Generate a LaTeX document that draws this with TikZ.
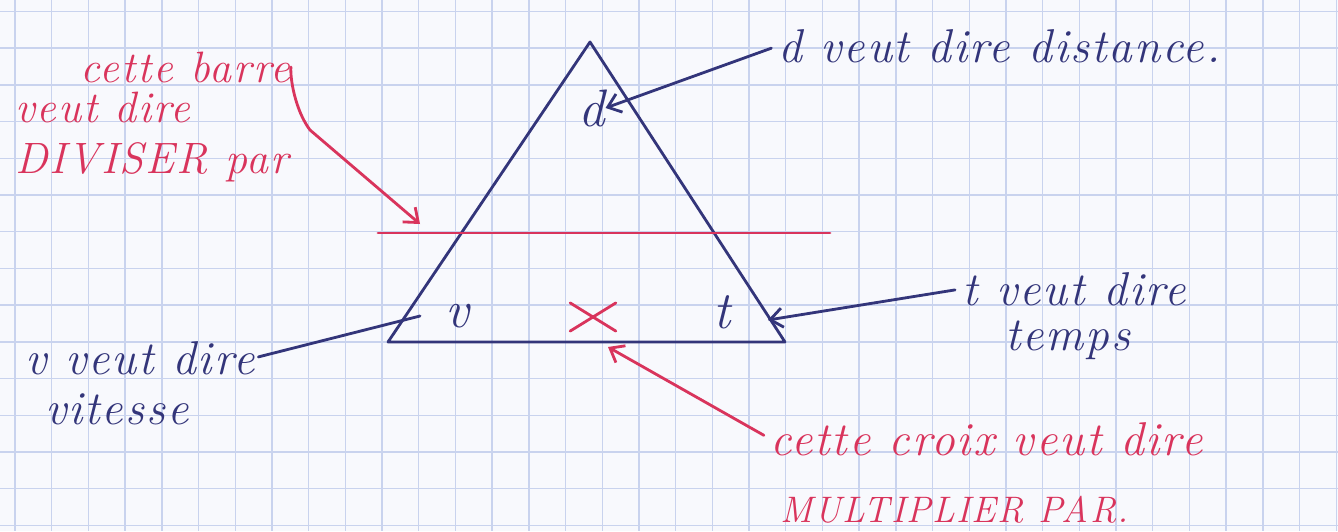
\documentclass[tikz,border=0pt]{standalone}
\usepackage{fontspec}
\setmainfont{Latin Modern Roman}[LetterSpace=4]
\usetikzlibrary{arrows.meta}
\definecolor{encrebleu}{HTML}{33357A}
\definecolor{encrerouge}{HTML}{D9345C}
\definecolor{quadrillage}{HTML}{C9D3EE}
\definecolor{papier}{HTML}{F8F9FD}
\tikzset{
  bleu/.style={encrebleu, line width=1.6pt, line cap=round, line join=round},
  rouge/.style={encrerouge, line width=1.6pt, line cap=round, line join=round},
  fleche/.style={-{Straight Barb[length=7pt,width=11pt]}},
  txtbleu/.style={text=encrebleu, font=\fontsize{27}{31}\selectfont\itshape, inner sep=0pt, anchor=base west},
  txtrouge/.style={text=encrerouge, font=\fontsize{25}{29}\selectfont\itshape, inner sep=0pt, anchor=base west},
}
\begin{document}
\begin{tikzpicture}[x=0.02cm,y=-0.02cm]
  % la feuille quadrillee
  \fill[papier] (0,0) rectangle (1338,531);
  \useasboundingbox (0,0) rectangle (1338,531);
  \foreach \i in {0,...,36} \draw[quadrillage,line width=0.8pt] ({15+36.7*\i},0) -- ++(0,531);
  \foreach \j in {0,...,14} \draw[quadrillage,line width=0.8pt] (0,{11.5+36.7*\j}) -- ++(1338,0);
  % le triangle et la barre
  \coordinate (sommet) at (590,42);
  \coordinate (basegauche) at (388,342);
  \coordinate (basedroite) at (785,342);
  \draw[bleu] (sommet) -- (basegauche) -- (basedroite) -- cycle;
  \draw[rouge] (378,233) -- (830,233);
  % les lettres
  \node[txtbleu,anchor=center,font=\fontsize{30}{34}\selectfont\itshape] (lettreD) at (592,108) {d};
  \node[txtbleu,anchor=center,font=\fontsize{30}{34}\selectfont\itshape] (lettreV) at (457,316) {v};
  \node[txtbleu,anchor=center,font=\fontsize{30}{34}\selectfont\itshape] (lettreT) at (722,312) {t};
  % la croix
  \node[minimum width=0.9cm,minimum height=0.55cm,inner sep=0pt] (croix) at (593,317) {};
  \draw[rouge] (croix.north west) -- (croix.south east) (croix.north east) -- (croix.south west);
  % les explications
  \node[txtbleu] (texteD) at (778,62) {d veut dire distance.};
  \node[txtbleu] (texteT) at (962,305) {t veut dire};
  \node[txtbleu] (texteTemps) at (1005,350) {temps};
  \node[txtbleu] (texteV) at (25,374) {v veut dire};
  \node[txtbleu] (texteVitesse) at (45,424) {vitesse};
  \node[txtrouge] (barreA) at (80,82) {cette barre};
  \node[txtrouge] (barreB) at (15,122) {veut dire};
  \node[txtrouge] (barreC) at (15,173) {DIVISER par};
  \node[txtrouge,font=\fontsize{27}{31}\selectfont\itshape] (croixA) at (770,455) {cette croix veut dire};
  \node[txtrouge,font=\fontsize{21}{25}\selectfont\itshape] (croixB) at (780,522) {MULTIPLIER PAR.};
  % les fleches
  \coordinate (pointeV) at (420,316);
  \coordinate (pointeT) at (768,320);
  \coordinate (pointeBarre) at (420,224);
  \coordinate (pointeCroix) at (608,347);
  \draw[bleu,fleche,shorten <=4pt] (texteD.west) -- (lettreD.east);
  \draw[bleu,fleche,shorten <=4pt] (texteT.west) -- (pointeT);
  \draw[bleu,shorten <=2pt] (texteV.east) -- (pointeV);
  \draw[rouge,fleche] (barreA.east) .. controls (290,78) and (295,110) .. (310,130) -- (pointeBarre);
  \draw[rouge,fleche,shorten <=4pt] (croixA.west) -- (pointeCroix);
\end{tikzpicture}
\end{document}
